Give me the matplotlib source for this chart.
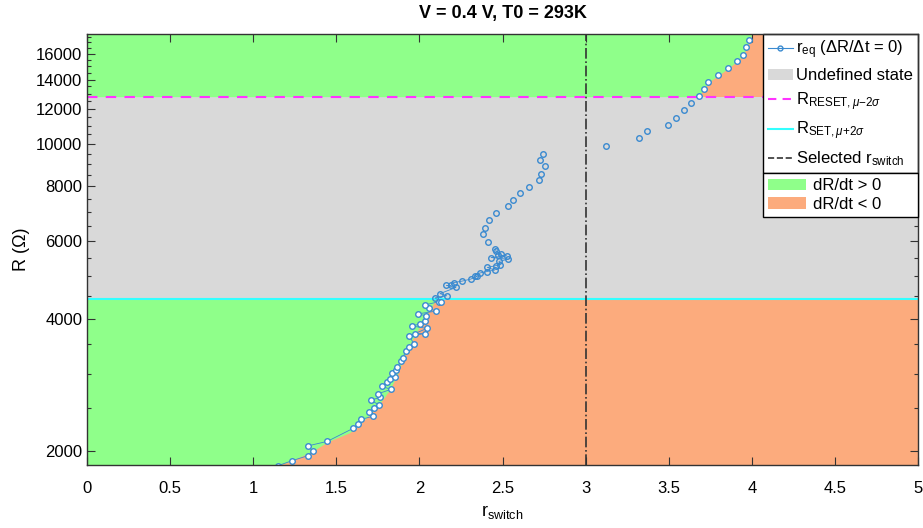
import numpy as np
import matplotlib
matplotlib.use('Agg')
import matplotlib.pyplot as plt
from matplotlib.patches import Patch
from matplotlib.lines import Line2D
from matplotlib.ticker import FixedLocator, NullFormatter

plt.rcParams['font.family'] = ['Liberation Sans', 'DejaVu Sans']
plt.rcParams['mathtext.fontset'] = 'custom'
plt.rcParams['mathtext.rm'] = 'Liberation Sans'
plt.rcParams['mathtext.it'] = 'Liberation Sans:italic'

# r_eq points, lower branch (r_switch, R in ohm)
r_low = [1.147, 1.233, 1.328, 1.358, 1.328, 1.446, 1.600, 1.632, 1.650, 1.723, 1.697,
         1.727, 1.755, 1.707, 1.765, 1.753, 1.827, 1.773, 1.807, 1.823, 1.853, 1.837,
         1.859, 1.867, 1.887, 1.900, 1.919, 1.935, 1.966, 1.939, 2.036, 1.974, 2.044,
         1.955, 2.005, 2.034, 2.040, 1.990, 2.098, 2.056, 2.036, 2.116, 2.130, 2.094,
         2.164, 2.124, 2.220, 2.162, 2.190, 2.206, 2.258, 2.308, 2.348, 2.334, 2.363,
         2.407, 2.453, 2.409, 2.459, 2.485, 2.479, 2.533, 2.431, 2.525, 2.475, 2.489,
         2.461, 2.457, 2.415, 2.381, 2.395, 2.417, 2.461, 2.531, 2.565, 2.607, 2.659,
         2.720, 2.732, 2.754, 2.728, 2.744]
R_low = [1850, 1900, 1950, 2000, 2053, 2103, 2250, 2300, 2360, 2400, 2450,
         2500, 2550, 2608, 2650, 2700, 2760, 2810, 2866, 2910, 2950, 3008,
         3050, 3100, 3200, 3260, 3380, 3450, 3510, 3650, 3700, 3700, 3800,
         3850, 3890, 3950, 4060, 4100, 4160, 4230, 4300, 4370, 4360, 4460,
         4510, 4560, 4710, 4760, 4760, 4830, 4870, 4920, 4990, 5010, 5080,
         5120, 5160, 5230, 5280, 5300, 5400, 5460, 5510, 5560, 5580, 5620,
         5700, 5770, 5980, 6230, 6440, 6690, 6950, 7200, 7440, 7720, 7970,
         8260, 8540, 8890, 9170, 9500]

# r_eq points, upper branch
r_up = [3.125, 3.321, 3.369, 3.494, 3.542, 3.592, 3.632, 3.682, 3.714, 3.736,
        3.795, 3.859, 3.909, 3.949, 3.963, 3.983]
R_up = [9900, 10320, 10690, 11060, 11460, 11960, 12380, 12830, 13310, 13810,
        14310, 14860, 15400, 15960, 16570, 17230]

# thresholds
R_reset = 12800
R_set = 4430
r_selected = 3.0

# green / orange boundary below R_SET
R_bnd_low = [1800, 1855, 1900, 2000, 2100, 2200, 2300, 2500, 2750, 3000, 3300, 3600, 4000, 4430]
r_bnd_low = [1.13, 1.15, 1.23, 1.36, 1.45, 1.58, 1.64, 1.74, 1.82, 1.87, 1.91, 1.96, 2.03, 2.10]
# green / orange boundary above R_RESET
R_bnd_up = [12800, 13310, 13810, 14310, 14860, 15400, 15960, 16570, 17230, 17800, 18500]
r_bnd_up = [3.676, 3.714, 3.740, 3.800, 3.860, 3.910, 3.950, 3.970, 3.990, 4.000, 4.01]

ylo, yhi = 1855, 17800
c_green = '#8fff8a'
c_orange = '#fcab7d'
c_gray = '#d9d9d9'
c_blue = '#3a8ad0'

fig = plt.figure(figsize=(9.23, 5.28), dpi=100)
ax = fig.add_axes([87/923, 1-465.3/528, 831/923, 431.6/528])
ax.set_yscale('log')

# regions
ax.axhspan(R_set, R_reset, color=c_gray, lw=0, zorder=0)
ax.axhspan(1000, R_set, color=c_orange, lw=0, zorder=0)
ax.axhspan(R_reset, 30000, color=c_orange, lw=0, zorder=0)
ax.fill_betweenx(R_bnd_low, 0, r_bnd_low, color=c_green, lw=0, zorder=0.5)
ax.fill_betweenx(R_bnd_up, 0, r_bnd_up, color=c_green, lw=0, zorder=0.5)

# threshold lines
ax.axhline(R_reset, color='#ff33ff', ls=(0, (5, 4)), lw=1.5, zorder=2)
ax.axhline(R_set, color='#33ffff', ls='-', lw=1.5, zorder=2)
ax.axvline(r_selected, color='#333333', ls='-.', lw=1.2, zorder=2)

# data: thin connecting line only visible in the dense cluster
r_arr = np.array(r_low + r_up)
R_arr = np.array(R_low + R_up)
dense = np.array(R_low) < 5800
ax.plot(np.array(r_low)[dense], np.array(R_low)[dense], '-', color=c_blue, lw=0.6, zorder=3)
inside = (R_arr > R_set) & (R_arr < R_reset)
ax.plot(r_arr[inside], R_arr[inside], 'o', ms=4, mfc='none', mec=c_blue, mew=1.0, zorder=4)
ax.plot(r_arr[~inside], R_arr[~inside], 'o', ms=4, mfc='white', mec=c_blue, mew=1.0, zorder=4)

ax.set_xlim(0, 5)
ax.set_ylim(ylo, yhi)

ax.set_xticks(np.arange(0, 5.01, 0.5))
ax.set_xticklabels(['0', '0.5', '1', '1.5', '2', '2.5', '3', '3.5', '4', '4.5', '5'])
ax.yaxis.set_major_locator(FixedLocator([2000, 4000, 6000, 8000, 10000, 12000, 14000, 16000]))
ax.set_yticklabels(['2000', '4000', '6000', '8000', '10000', '12000', '14000', '16000'])
ax.yaxis.set_minor_locator(FixedLocator(np.arange(2000, 17800, 500)))
ax.yaxis.set_minor_formatter(NullFormatter())
ax.tick_params(which='both', direction='in', top=True, right=True, labelsize=12,
               color='#333333', width=0.8)
ax.tick_params(which='major', length=6)
ax.tick_params(which='minor', length=3)
ax.tick_params(axis='x', pad=11)
for s in ax.spines.values():
    s.set_color('#333333')
    s.set_linewidth(1.0)
    s.set_zorder(5)

ax.set_title('V = 0.4 V, T0 = 293K', fontsize=13, fontweight='bold', pad=11)
ax.set_xlabel(r'r$_{\mathrm{switch}}$', fontsize=13, labelpad=5)
ax.set_ylabel('R (Ω)', fontsize=13, labelpad=4)

h1 = [Line2D([], [], color=c_blue, lw=0.8, marker='o', ms=3.5, mfc='none', mec=c_blue),
      Patch(facecolor=c_gray, edgecolor='none'),
      Line2D([], [], color='#ff33ff', ls=(0, (4, 3)), lw=1.5),
      Line2D([], [], color='#33ffff', lw=1.5),
      Line2D([], [], color='#333333', ls='--', lw=1.2)]
l1 = [r'r$_{\mathrm{eq}}$ ($\Delta$R/$\Delta$t = 0)', 'Undefined state',
      r'R$_{\mathrm{RESET},\mu\mathrm{-}2\sigma}$', r'R$_{\mathrm{SET},\mu\mathrm{+}2\sigma}$',
      r'Selected r$_{\mathrm{switch}}$']
leg1 = ax.legend(h1, l1, loc='upper right', bbox_to_anchor=(1.0, 1.0), fontsize=12,
                 frameon=True, fancybox=False, edgecolor='black', framealpha=1,
                 borderaxespad=0, handlelength=1.5, handletextpad=0.2,
                 labelspacing=0.42, borderpad=0.3)
leg1.get_frame().set_linewidth(1.0)
ax.add_artist(leg1)

# second legend stacked directly under the first one, same width
fig.canvas.draw()
bb = leg1.get_window_extent().transformed(ax.transAxes.inverted())
h2 = [Patch(facecolor=c_green, edgecolor='none'), Patch(facecolor=c_orange, edgecolor='none')]
l2 = ['dR/dt > 0', 'dR/dt < 0']
leg2 = ax.legend(h2, l2, loc='upper left', bbox_to_anchor=(bb.x0, bb.y0, bb.width, 0),
                 mode='expand', fontsize=12,
                 frameon=True, fancybox=False, edgecolor='black', framealpha=1,
                 borderaxespad=0, handlelength=2.3, handletextpad=0.4,
                 labelspacing=0.2, borderpad=0.3)
leg2.get_frame().set_linewidth(1.0)

fig.savefig('out.png', dpi=100)
